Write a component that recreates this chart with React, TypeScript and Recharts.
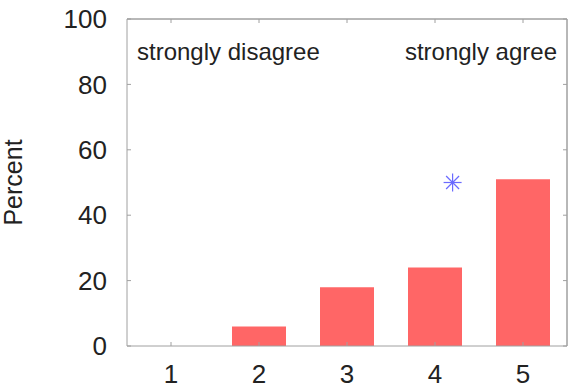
import {
  Bar,
  ComposedChart,
  ReferenceLine,
  Scatter,
  XAxis,
  YAxis,
} from "recharts";

// survey answers 1..5 and share of respondents
const responses = [1, 2, 3, 4, 5];
const percents = [0, 6, 18, 24, 51];
const yTicks = [0, 20, 40, 60, 80, 100];

// single star marker
const markerX = [4.2];
const markerY = [50];

const FONT = "'Liberation Sans', Arial, sans-serif";
const AXIS = "#a0a0a0";
const TEXT = "#222";

const data = responses.map((r, i) => ({ cat: r, pct: percents[i] }));
const marker = markerX.map((x, i) => ({ mx: x, pct: markerY[i] }));

function Star(props: any) {
  const { cx, cy } = props;
  if (cx == null || cy == null) return null;
  const r = 9;
  const d = r * 0.72;
  return (
    <g stroke="#6b6bff" strokeWidth={1.2}>
      <line x1={cx - r} y1={cy} x2={cx + r} y2={cy} />
      <line x1={cx} y1={cy - r} x2={cx} y2={cy + r} />
      <line x1={cx - d} y1={cy - d} x2={cx + d} y2={cy + d} />
      <line x1={cx - d} y1={cy + d} x2={cx + d} y2={cy - d} />
    </g>
  );
}

const tickStyle = { fontSize: 26, fill: TEXT, fontFamily: FONT };
const blank = () => "";

export default function App() {
  return (
    <div style={{ position: "absolute", left: 0, top: 0, background: "#fff" }}>
      <ComposedChart
        width={582}
        height={392}
        data={data}
        margin={{ top: 9, right: 5, bottom: 0, left: 0 }}
      >
        <XAxis
          dataKey="cat"
          type="number"
          domain={[0.5, 5.5]}
          ticks={responses}
          allowDataOverflow
          height={46}
          stroke={AXIS}
          tickSize={-4}
          tickMargin={23}
          tick={tickStyle}
        />
        {/* mirrored top axis, also used to place the star */}
        <XAxis
          xAxisId="top"
          orientation="top"
          dataKey="mx"
          type="number"
          domain={[0.5, 5.5]}
          ticks={responses}
          allowDataOverflow
          height={10}
          stroke={AXIS}
          tickSize={-4}
          tickFormatter={blank}
        />
        <YAxis
          domain={[0, 100]}
          ticks={yTicks}
          width={127}
          stroke={AXIS}
          tickSize={-4}
          tickMargin={24}
          tick={tickStyle}
          label={{
            value: "Percent",
            angle: -90,
            position: "insideLeft",
            offset: 13,
            style: { textAnchor: "middle", fontSize: 25, fill: TEXT, fontFamily: FONT },
          }}
        />
        <YAxis
          yAxisId="right"
          orientation="right"
          domain={[0, 100]}
          ticks={yTicks}
          allowDataOverflow
          width={10}
          stroke={AXIS}
          tickSize={-4}
          tickFormatter={blank}
        />
        {/* close the frame */}
        <ReferenceLine x={5.5} stroke={AXIS} />
        <ReferenceLine y={100} stroke={AXIS} />
        <ReferenceLine
          y={90}
          stroke="none"
          label={{
            value: "strongly disagree",
            position: "insideLeft",
            offset: 10,
            fontSize: 24,
            fill: TEXT,
            fontFamily: FONT,
          }}
        />
        <ReferenceLine
          y={90}
          stroke="none"
          label={{
            value: "strongly agree",
            position: "insideRight",
            offset: 10,
            fontSize: 24,
            fill: TEXT,
            fontFamily: FONT,
          }}
        />
        <Bar dataKey="pct" fill="#ff6666" barSize={54} isAnimationActive={false} />
        <Scatter
          data={marker}
          xAxisId="top"
          yAxisId="right"
          dataKey="pct"
          shape={Star}
          isAnimationActive={false}
        />
      </ComposedChart>
    </div>
  );
}
